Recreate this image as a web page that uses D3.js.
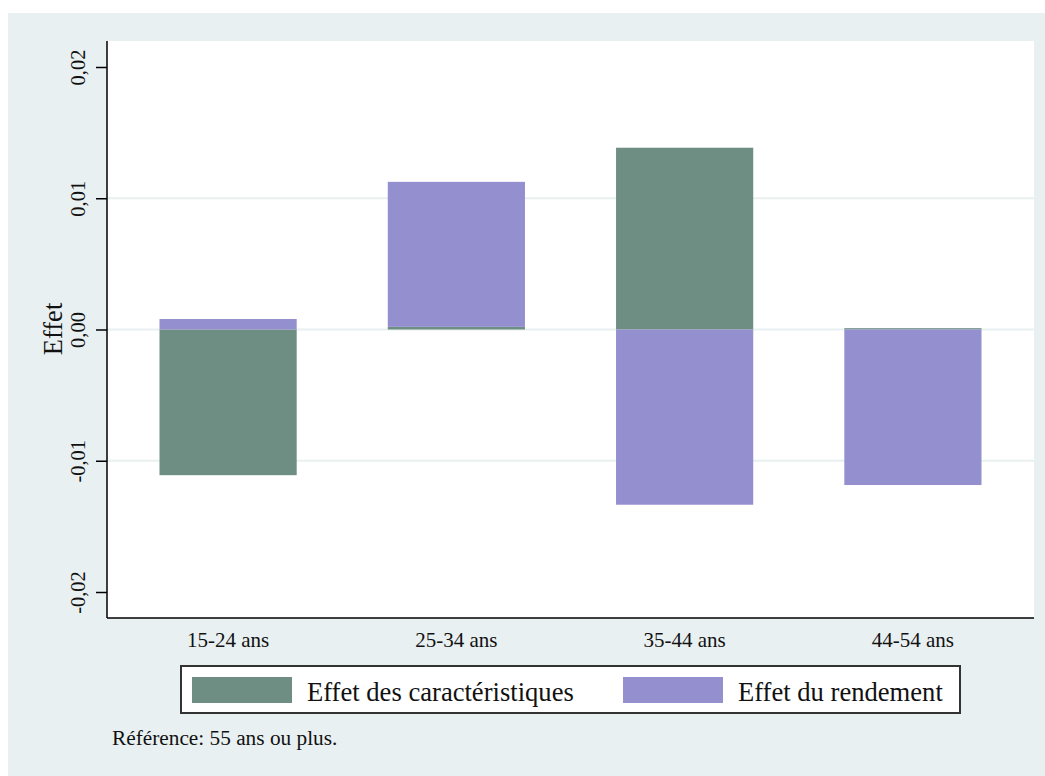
<!DOCTYPE html>
<html><head><meta charset="utf-8">
<script src="https://cdn.jsdelivr.net/npm/d3@7"></script>
<style>
body{margin:0;background:#fff;}
text{font-family:"Liberation Serif","Times New Roman",serif;fill:#111;}
</style></head>
<body><svg id="c" width="1045" height="776"></svg>
<script>
const categories = ["15-24 ans","25-34 ans","35-44 ans","44-54 ans"];
const caracteristiques = [-0.0111, 0.0002, 0.01385, 0.0001];
const rendement = [0.0008, 0.01105, -0.01335, -0.01185];
const yTicks = [-0.02, -0.01, 0, 0.01, 0.02];
const seriesNames = ["Effet des caractéristiques", "Effet du rendement"];
const colors = ["#6e8e84", "#948fcf"];
const note = "Référence: 55 ans ou plus.";

const svg = d3.select("#c");
svg.append("rect").attr("x",8).attr("y",13).attr("width",1037).attr("height",763).attr("fill","#e9f0f2");
const L=107, R=1034, T=41, B=618;
svg.append("rect").attr("x",L).attr("y",T).attr("width",R-L).attr("height",B-T).attr("fill","#fff");

const y = d3.scaleLinear().domain([-0.02,0.02]).range([592,67]);
const x = d3.scaleBand().domain(categories).range([L,R]).paddingInner(0.399).paddingOuter(0.23);

// gridlines
svg.append("g").selectAll("line").data(yTicks.filter(d=>d>-0.02 && d<0.02)).join("line")
  .attr("x1",L).attr("x2",R).attr("y1",d=>y(d)).attr("y2",d=>y(d))
  .attr("stroke","#e8f0f0").attr("stroke-width",2);

const table = categories.map((c,i)=>({cat:c, a:caracteristiques[i], b:rendement[i]}));
const stack = d3.stack().keys(["a","b"]).offset(d3.stackOffsetDiverging)(table);
svg.append("g").selectAll("g").data(stack).join("g").attr("fill",(d,i)=>colors[i])
  .selectAll("rect").data(d=>d).join("rect")
  .attr("x",d=>x(d.data.cat)).attr("width",x.bandwidth())
  .attr("y",d=>y(Math.max(d[0],d[1]))).attr("height",d=>Math.abs(y(d[0])-y(d[1])));

// y axis
const yAxis = d3.axisLeft(y).tickValues(yTicks).tickSize(11).tickFormat(d=>d3.format(".2f")(d).replace(".",",").replace("−","-"));
const gy = svg.append("g").attr("transform",`translate(${L},0)`).call(yAxis);
gy.select(".domain").remove();
gy.selectAll(".tick line").attr("stroke","#000").attr("stroke-width",1.5);
gy.selectAll(".tick text").attr("x",null).attr("dy",null).attr("text-anchor","middle")
  .attr("transform","translate(-22,0) rotate(-90)").style("font-size","20.5px")
  .style("font-family",'"Liberation Serif","Times New Roman",serif').attr("fill","#111");
svg.append("line").attr("x1",L).attr("x2",L).attr("y1",T).attr("y2",B).attr("stroke","#000").attr("stroke-width",1.5);
svg.append("line").attr("x1",L).attr("x2",R).attr("y1",B).attr("y2",B).attr("stroke","#000").attr("stroke-width",1.5);

// x axis labels
const xAxis = d3.axisBottom(x).tickSize(0).tickPadding(0);
const gx = svg.append("g").attr("transform",`translate(0,${B})`).call(xAxis);
gx.select(".domain").remove();
gx.selectAll(".tick text").attr("y",29).attr("dy",null).style("font-size","21px")
  .style("font-family",'"Liberation Serif","Times New Roman",serif').attr("fill","#111");

// y title
svg.append("text").attr("transform","translate(61.5,329) rotate(-90)").attr("text-anchor","middle")
  .style("font-size","26.5px").text("Effet");

// legend
svg.append("rect").attr("x",181).attr("y",666).attr("width",779).attr("height",47)
  .attr("fill","#fff").attr("stroke","#333").attr("stroke-width",2);
const lx = [192, 623];
seriesNames.forEach((n,i)=>{
  svg.append("rect").attr("x",lx[i]).attr("y",677).attr("width",100).attr("height",26).attr("fill",colors[i]);
  svg.append("text").attr("x",lx[i]+115).attr("y",701).style("font-size","26.6px").text(n);
});
svg.append("text").attr("x",112).attr("y",745).style("font-size","21.3px").text(note);
</script></body></html>
